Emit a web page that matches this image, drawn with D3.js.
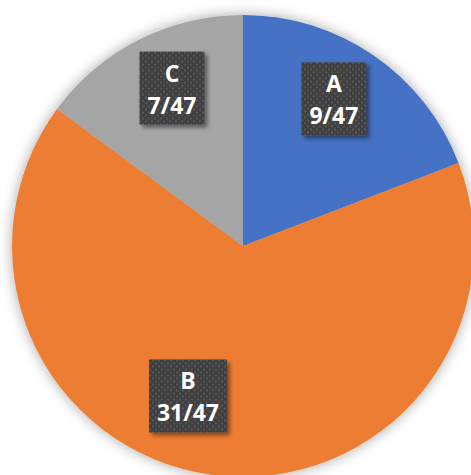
<!DOCTYPE html>
<html lang="en">
<head>
<meta charset="utf-8">
<style>
  body { margin: 0; background: #fff; }
  svg { display: block; }
  .lbl text { font-family: "Open Sans", sans-serif; font-weight: 700; font-size: 23px; fill: #fff; }
</style>
</head>
<body>
<div id="chart"></div>
<script src="https://d3js.org/d3.v7.min.js"></script>
<script>
// data
var categories = ["A", "B", "C"];
var counts = [9, 31, 7];
var total = 47;
var colors = ["#4472C4", "#ED7D31", "#A5A5A5"];

var width = 471, height = 475,
    cx = 243, cy = 246, radius = 231,
    labelR = 173;

// Excel's "best fit" nudges the labels a little off the centroid
var labelShift = { A: [-7, -5], B: [-32, -22], C: [7, -4] };

var svg = d3.select("#chart").append("svg")
    .attr("width", width)
    .attr("height", height);

var defs = svg.append("defs");

var glow = defs.append("filter").attr("id", "glow")
    .attr("x", "-20%").attr("y", "-20%").attr("width", "140%").attr("height", "140%");
glow.append("feGaussianBlur").attr("in", "SourceAlpha").attr("stdDeviation", 7).attr("result", "b");
glow.append("feComponentTransfer").attr("in", "b").attr("result", "s")
  .append("feFuncA").attr("type", "linear").attr("slope", 0.35);
var m = glow.append("feMerge");
m.append("feMergeNode").attr("in", "s");
m.append("feMergeNode").attr("in", "SourceGraphic");

var pat = defs.append("pattern").attr("id", "dots")
    .attr("patternUnits", "userSpaceOnUse")
    .attr("width", 6).attr("height", 6);
pat.append("rect").attr("width", 6).attr("height", 6).attr("fill", "#404040");
pat.append("rect").attr("x", 0).attr("y", 0).attr("width", 2).attr("height", 2).attr("fill", "#585858");
pat.append("rect").attr("x", 3).attr("y", 3).attr("width", 2).attr("height", 2).attr("fill", "#585858");

var boxShadow = defs.append("filter").attr("id", "bshadow")
    .attr("x", "-20%").attr("y", "-20%").attr("width", "150%").attr("height", "150%");
boxShadow.append("feGaussianBlur").attr("in", "SourceAlpha").attr("stdDeviation", 2).attr("result", "b");
boxShadow.append("feOffset").attr("in", "b").attr("dx", 3).attr("dy", 3).attr("result", "o");
boxShadow.append("feComponentTransfer").attr("in", "o").attr("result", "s")
  .append("feFuncA").attr("type", "linear").attr("slope", 0.45);
var bm = boxShadow.append("feMerge");
bm.append("feMergeNode").attr("in", "s");
bm.append("feMergeNode").attr("in", "SourceGraphic");

var slices = categories.map(function (c, i) {
  return { name: c, value: counts[i], color: colors[i] };
});

var pie = d3.pie().sort(null).value(function (d) { return d.value; });
var arc = d3.arc().innerRadius(0).outerRadius(radius);
var labelArc = d3.arc().innerRadius(labelR).outerRadius(labelR);

var g = svg.append("g").attr("transform", "translate(" + cx + "," + cy + ")");

g.append("g").attr("filter", "url(#glow)")
  .selectAll("path")
  .data(pie(slices))
  .enter().append("path")
  .attr("d", arc)
  .attr("fill", function (d) { return d.data.color; });

var lbl = g.selectAll(".lbl")
  .data(pie(slices))
  .enter().append("g")
  .attr("class", "lbl")
  .attr("transform", function (d) {
    var c = labelArc.centroid(d);
    var s = labelShift[d.data.name] || [0, 0];
    return "translate(" + (c[0] + s[0]) + "," + (c[1] + s[1]) + ")";
  });

var box = lbl.append("rect").attr("fill", "url(#dots)").attr("filter", "url(#bshadow)");

lbl.append("text")
  .attr("text-anchor", "middle")
  .attr("y", -6)
  .text(function (d) { return d.data.name; });
lbl.append("text")
  .attr("text-anchor", "middle")
  .attr("y", 26)
  .text(function (d) { return d.data.value + "/" + total; });

box.each(function () {
  var p = d3.select(this.parentNode);
  var w = 0;
  p.selectAll("text").each(function () { w = Math.max(w, this.getComputedTextLength()); });
  w = Math.round(w + 16);
  d3.select(this)
    .attr("x", -w / 2).attr("y", -36)
    .attr("width", w).attr("height", 73);
});
</script>
</body>
</html>
